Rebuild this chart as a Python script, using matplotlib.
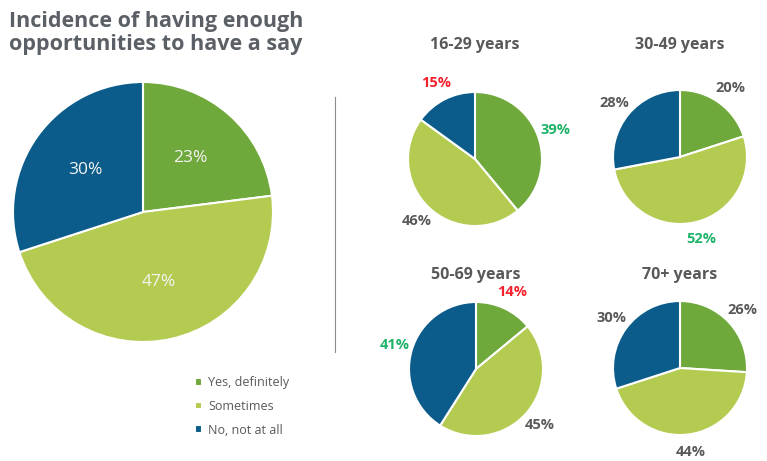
import matplotlib
matplotlib.use("Agg")
import matplotlib.pyplot as plt
from matplotlib.lines import Line2D

plt.rcParams['font.family'] = ['Open Sans', 'DejaVu Sans']

# Donnees
categories = ['Yes, definitely', 'Sometimes', 'No, not at all']
overall = [23, 47, 30]
age_groups = ['16-29 years', '30-49 years', '50-69 years', '70+ years']
by_age = [
    [39, 46, 15],
    [20, 52, 28],
    [14, 45, 41],
    [26, 44, 30],
]
# couleur des etiquettes : 'hi' = plus haut (vert), 'lo' = plus bas (rouge)
label_marks = [
    ['hi', '', 'lo'],
    ['', 'hi', ''],
    ['lo', '', 'hi'],
    ['', '', ''],
]

colors = ['#6fa83b', '#b4cb51', '#0b5c8a']
mark_colors = {'hi': '#1fb36a', 'lo': '#f5222d', '': '#595959'}
grey = '#595959'

W, H = 767, 461
fig = plt.figure(figsize=(W / 100, H / 100), dpi=100)


def pie_axes(cx, cy, r, lim=1.6):
    """ Axes carre centre sur (cx, cy) en pixels, rayon r """
    w = 2 * r * lim
    ax = fig.add_axes([(cx - r * lim) / W, 1 - (cy + r * lim) / H, w / W, w / H])
    return ax, lim


def draw_pie(ax, lim, values, labeldistance, text_colors, fontsize, weight):
    wedges, texts = ax.pie(values, colors=colors, startangle=90, counterclock=False,
                           labels=[f'{v}%' for v in values], labeldistance=labeldistance,
                           wedgeprops=dict(edgecolor='white', linewidth=1.5),
                           textprops=dict(fontsize=fontsize, fontweight=weight))
    for t, c in zip(texts, text_colors):
        t.set_color(c)
        t.set_ha('center')
        t.set_va('center')
    ax.set_xlim(-lim, lim)
    ax.set_ylim(-lim, lim)
    ax.set_aspect('equal')
    ax.axis('off')
    return wedges


# Camembert principal
ax, lim = pie_axes(143, 212, 130, lim=1.1)
main_wedges = draw_pie(ax, lim, overall, 0.55, ['#f4f4f4'] * 3, 12.5, 'normal')

fig.text(156 / W, 1 - 11 / H, 'Incidence of having enough\nopportunities to have a say',
         ha='center', va='top', fontsize=15.5, fontweight='bold', color='#5b5f66',
         linespacing=1.12, multialignment='center')

fig.legend(main_wedges, categories, loc='upper left', bbox_to_anchor=(184 / W, 1 - 365 / H),
           frameon=False, handlelength=0.55, handleheight=0.55, handletextpad=0.5,
           labelspacing=0.85, fontsize=9, labelcolor=grey)

# Separateur
fig.add_artist(Line2D([335 / W, 335 / W], [1 - 97 / H, 1 - 352 / H], color='#8c8c8c', lw=0.8))

# Petits camemberts par age
centres = [(475, 159), (680, 157), (476, 369), (680, 368)]
titre_y = [45, 45, 275, 275]
for i, grp in enumerate(age_groups):
    cx, cy = centres[i]
    ax, lim = pie_axes(cx, cy, 67)
    draw_pie(ax, lim, by_age[i], 1.27, [mark_colors[m] for m in label_marks[i]], 10.5, 'bold')
    fig.text(cx / W, 1 - titre_y[i] / H, grp, ha='center', va='center',
             fontsize=11.5, fontweight='bold', color=grey)

fig.savefig('out.png', dpi=100, facecolor='white')
plt.close(fig)
